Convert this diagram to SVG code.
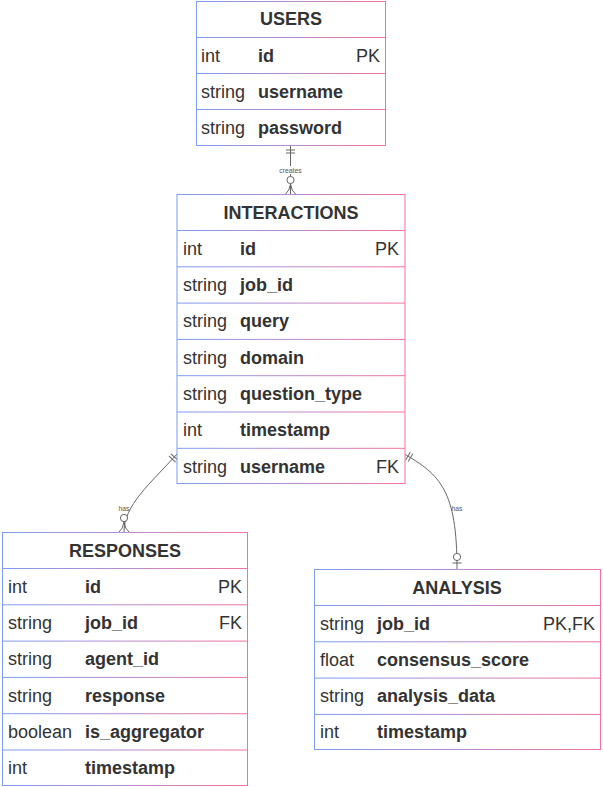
<svg xmlns="http://www.w3.org/2000/svg" width="603" height="787" viewBox="0 0 603 787">
<defs>
  <linearGradient id="g" x1="0" y1="0" x2="1" y2="0">
    <stop offset="0" stop-color="#7c9cf7"/>
    <stop offset="0.5" stop-color="#b98cd0"/>
    <stop offset="1" stop-color="#f5719c"/>
  </linearGradient>
  <marker id="oneStart" markerUnits="userSpaceOnUse" viewBox="0 -6 12 12" refX="0" refY="0" markerWidth="12" markerHeight="12" orient="auto">
    <path d="M4,-4.5 L4,4.5 M7,-4.5 L7,4.5" stroke="#666" stroke-width="1" fill="none"/>
  </marker>
  <marker id="zeroManyEnd" markerUnits="userSpaceOnUse" viewBox="-20 -8 22 16" refX="0" refY="0" markerWidth="22" markerHeight="16" orient="auto">
    <circle cx="-14" cy="0" r="3.6" fill="#fff" stroke="#666" stroke-width="1"/>
    <path d="M-10,0 Q-3,-1 0,-5 M-10,0 Q-3,1 0,5" stroke="#666" stroke-width="1" fill="none"/>
  </marker>
  <marker id="zeroOneEnd" markerUnits="userSpaceOnUse" viewBox="-20 -8 22 16" refX="0" refY="0" markerWidth="22" markerHeight="16" orient="auto">
    <circle cx="-12" cy="0" r="3.6" fill="#fff" stroke="#666" stroke-width="1"/>
    <path d="M-6,-4.5 L-6,4.5" stroke="#666" stroke-width="1" fill="none"/>
  </marker>
</defs>
<style>
  .box { fill: #ffffff; stroke: url(#g); stroke-width: 1; }
  .div { fill: url(#g); }
  .title { font-family: "Liberation Sans", Arial, sans-serif; font-size: 18px; font-weight: bold; fill: #333333; text-anchor: middle; }
  .t { font-family: "Liberation Sans", Arial, sans-serif; font-size: 18px; fill: #333333; }
  .n { font-family: "Liberation Sans", Arial, sans-serif; font-size: 18px; font-weight: bold; fill: #333333; }
  .k { font-family: "Liberation Sans", Arial, sans-serif; font-size: 18px; fill: #333333; text-anchor: end; }
  .edge { fill: none; stroke: #666666; stroke-width: 1; }
  .lbl { font-family: "Liberation Sans", Arial, sans-serif; font-size: 6.8px; fill: #555555; text-anchor: middle; }
</style>

<g id="connectors">
  <path class="edge" d="M290.5,146 L290.5,194" marker-start="url(#oneStart)" marker-end="url(#zeroManyEnd)"/>
  <rect x="280" y="166" width="21" height="8" fill="#fff"/>
  <text class="lbl" x="290.5" y="172.5">creates</text>
  <path class="edge" d="M177,454 C150,484 124,505 124,532" marker-start="url(#oneStart)" marker-end="url(#zeroManyEnd)"/>
  <text class="lbl" x="124" y="510.5">has</text>
  <path class="edge" d="M404.5,454 C440,475 457,490 457,569" marker-start="url(#oneStart)" marker-end="url(#zeroOneEnd)"/>
  <text class="lbl" x="457" y="510.5">has</text>
</g>

<g id="USERS">
  <rect class="box" x="196.5" y="1.5" width="189" height="144"/>
  <rect class="div" x="196" y="37" width="190" height="1"/>
  <rect class="div" x="196" y="73" width="190" height="1"/>
  <rect class="div" x="196" y="109" width="190" height="1"/>
  <text class="title" x="291" y="25">USERS</text>
  <text class="t" x="201" y="61.5">int</text><text class="n" x="258" y="61.5">id</text><text class="k" x="380" y="61.5">PK</text>
  <text class="t" x="201" y="97.5">string</text><text class="n" x="258" y="97.5">username</text>
  <text class="t" x="201" y="133.5">string</text><text class="n" x="258" y="133.5">password</text>
</g>

<g id="INTERACTIONS">
  <rect class="box" x="177" y="194.5" width="228" height="289"/>
  <rect class="div" x="177" y="230" width="228" height="1"/>
  <rect class="div" x="177" y="266.3" width="228" height="1"/>
  <rect class="div" x="177" y="302.6" width="228" height="1"/>
  <rect class="div" x="177" y="338.9" width="228" height="1"/>
  <rect class="div" x="177" y="375.2" width="228" height="1"/>
  <rect class="div" x="177" y="411.5" width="228" height="1"/>
  <rect class="div" x="177" y="447.8" width="228" height="1"/>
  <text class="title" x="291" y="218.5">INTERACTIONS</text>
  <text class="t" x="183" y="254.5">int</text><text class="n" x="240" y="254.5">id</text><text class="k" x="399" y="254.5">PK</text>
  <text class="t" x="183" y="291">string</text><text class="n" x="240" y="291">job_id</text>
  <text class="t" x="183" y="327.3">string</text><text class="n" x="240" y="327.3">query</text>
  <text class="t" x="183" y="363.6">string</text><text class="n" x="240" y="363.6">domain</text>
  <text class="t" x="183" y="399.9">string</text><text class="n" x="240" y="399.9">question_type</text>
  <text class="t" x="183" y="436.2">int</text><text class="n" x="240" y="436.2">timestamp</text>
  <text class="t" x="183" y="472.5">string</text><text class="n" x="240" y="472.5">username</text><text class="k" x="399" y="472.5">FK</text>
</g>

<g id="RESPONSES">
  <rect class="box" x="2.5" y="532.5" width="245" height="253"/>
  <rect class="div" x="2" y="568" width="246" height="1"/>
  <rect class="div" x="2" y="604.3" width="246" height="1"/>
  <rect class="div" x="2" y="640.6" width="246" height="1"/>
  <rect class="div" x="2" y="676.9" width="246" height="1"/>
  <rect class="div" x="2" y="713.2" width="246" height="1"/>
  <rect class="div" x="2" y="749.5" width="246" height="1"/>
  <text class="title" x="125" y="556.5">RESPONSES</text>
  <text class="t" x="8" y="592.5">int</text><text class="n" x="85" y="592.5">id</text><text class="k" x="242" y="592.5">PK</text>
  <text class="t" x="8" y="629">string</text><text class="n" x="85" y="629">job_id</text><text class="k" x="242" y="629">FK</text>
  <text class="t" x="8" y="665.3">string</text><text class="n" x="85" y="665.3">agent_id</text>
  <text class="t" x="8" y="701.6">string</text><text class="n" x="85" y="701.6">response</text>
  <text class="t" x="8" y="737.9">boolean</text><text class="n" x="85" y="737.9">is_aggregator</text>
  <text class="t" x="8" y="774.2">int</text><text class="n" x="85" y="774.2">timestamp</text>
</g>

<g id="ANALYSIS">
  <rect class="box" x="314.5" y="569.5" width="286" height="180"/>
  <rect class="div" x="314" y="605" width="287" height="1"/>
  <rect class="div" x="314" y="641.3" width="287" height="1"/>
  <rect class="div" x="314" y="677.6" width="287" height="1"/>
  <rect class="div" x="314" y="713.9" width="287" height="1"/>
  <text class="title" x="457" y="593.5">ANALYSIS</text>
  <text class="t" x="320" y="629.5">string</text><text class="n" x="377" y="629.5">job_id</text><text class="k" x="595" y="629.5">PK,FK</text>
  <text class="t" x="320" y="665.8">float</text><text class="n" x="377" y="665.8">consensus_score</text>
  <text class="t" x="320" y="702.1">string</text><text class="n" x="377" y="702.1">analysis_data</text>
  <text class="t" x="320" y="738.4">int</text><text class="n" x="377" y="738.4">timestamp</text>
</g>
</svg>
